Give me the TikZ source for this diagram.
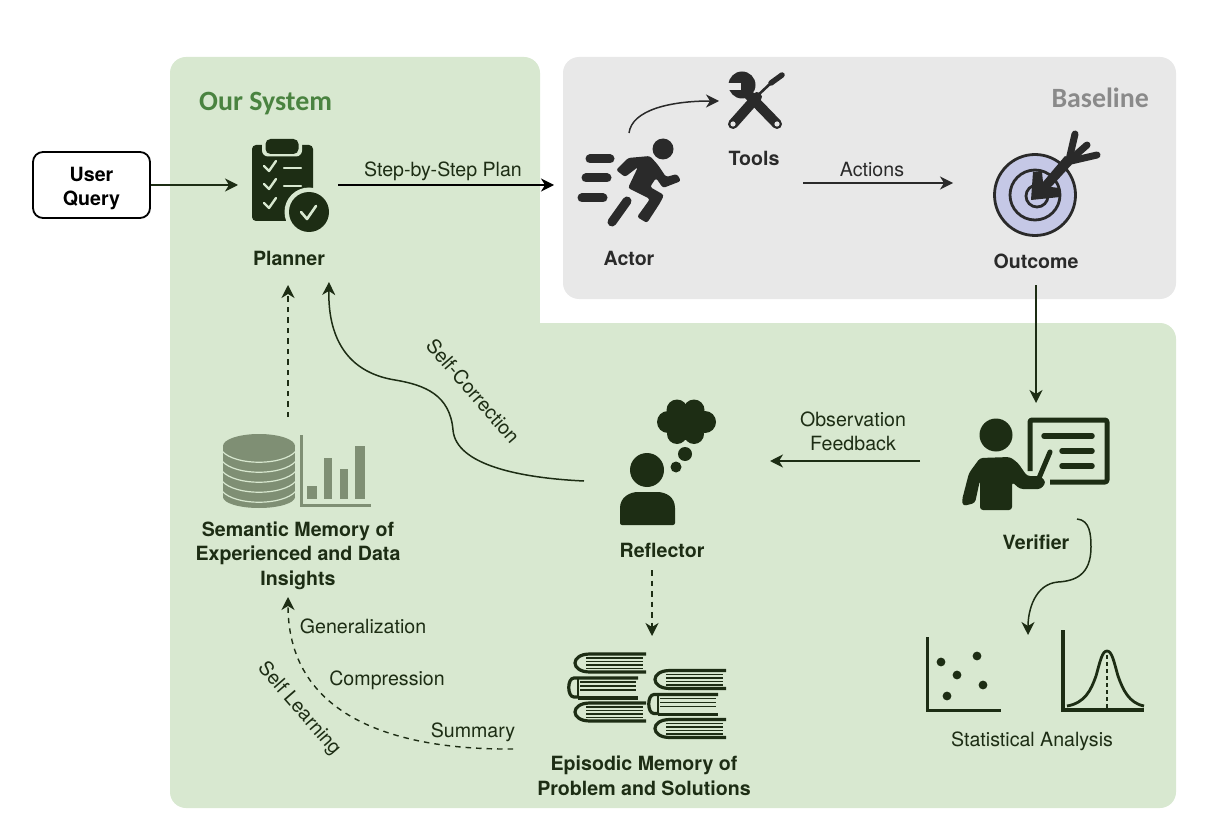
\documentclass[tikz,border=0pt]{standalone}
\usepackage{fontspec}
\setmainfont{TeX Gyre Heros}
\newfontfamily\titlefont{Carlito}
\usetikzlibrary{arrows.meta}
\definecolor{panelgreen}{HTML}{D8E8D0}
\definecolor{panelgray}{HTML}{E8E8E8}
\definecolor{ink}{HTML}{1D2D14}
\definecolor{coal}{HTML}{2A2A2A}
\definecolor{muted}{HTML}{7F8F74}
\definecolor{ourgreen}{HTML}{4A8340}
\definecolor{basegray}{HTML}{8A8A8A}
\definecolor{lilac}{HTML}{C5C8E6}
\tikzset{
  x=1pt,y=-1pt,
  lab/.style={font=\fontsize{19.6}{23.5}\selectfont,text=ink,inner sep=0pt,align=center},
  title/.style={font=\fontsize{19.6}{24.4}\selectfont\bfseries,text=ink,inner sep=0pt,align=center},
  graylab/.style={lab,text=coal},
  graytitle/.style={title,text=coal},
  flow/.style={draw=ink,line width=1.5pt,-{Stealth[length=13pt,width=13pt,inset=4pt]}},
  dashflow/.style={flow,line width=1.4pt,dash pattern=on 5.5pt off 5pt},
  blackflow/.style={flow,draw=black},
  grayflow/.style={flow,draw=coal},
  querybox/.style={draw=black,fill=white,line width=1.8pt,rounded corners=10pt,minimum width=117pt,minimum height=66pt,inner sep=0pt,align=center,font=\fontsize{19.6}{24}\selectfont\bfseries},
  bookline/.style={draw=ink,line width=1.7pt},
  bookedge/.style={draw=ink,line width=3.2pt},
}
\begin{document}
\begin{tikzpicture}
\useasboundingbox (0,0) rectangle (1229,837);
\fill[white] (0,0) rectangle (1229,837);
% panels
\fill[panelgreen,rounded corners=16pt] (170,57) -- (540,57) -- (540,200) -- (170,200) -- cycle;
\fill[panelgreen] (170,100) rectangle (540,400);
\fill[panelgreen,rounded corners=16pt] (170,323) -- (1176,323) -- (1176,808) -- (170,808) -- cycle;
\fill[panelgray,rounded corners=16pt] (563,57) rectangle (1176,299);
\node[font=\fontsize{27.9}{32}\selectfont\titlefont\bfseries,text=ourgreen,anchor=west,inner sep=0pt] (oursys) at (199,104) {Our System};
\node[font=\fontsize{27.9}{32}\selectfont\titlefont\bfseries,text=basegray,anchor=east,inner sep=0pt] (baseline) at (1149,98) {Baseline};

% connector anchors
\coordinate (plannerW) at (238,185);
\coordinate (plannerE) at (338,185);
\coordinate (plannerS) at (288,285);
\coordinate (plannerSE) at (329,282);
\coordinate (actorW) at (554,185);
\coordinate (actorN) at (629,133);
\coordinate (toolsW) at (719,101);
\coordinate (toolsSE) at (803,183);
\coordinate (outcomeW) at (953,183);
\coordinate (outcomeS) at (1036,285);
\coordinate (verifierN) at (1036,403);
\coordinate (verifierW) at (920,461);
\coordinate (verifierS) at (1077,519);
\coordinate (statsN) at (1028,635);
\coordinate (reflectorE) at (770,461);
\coordinate (reflectorW) at (584,481);
\coordinate (reflectorS) at (652,570);
\coordinate (episodicN) at (652,636);
\coordinate (episodicW) at (513,749);
\coordinate (semanticN) at (288,417);
\coordinate (semanticS) at (288,597);

% user query
\node[querybox] (query) at (91.5,185) {\rule{0pt}{21pt}User\\Query};

% planner icon
\fill[ink,rounded corners=4pt] (252,145) rectangle (313,221);
\fill[panelgreen,rounded corners=6pt] (262,136) rectangle (302,156.5);
\fill[ink,rounded corners=5pt] (265.5,139) rectangle (298.5,154);
\fill[panelgreen] (309,212) circle (24.5);
\fill[ink] (309,212) circle (20);
\foreach \yy in {166,184,203}{
  \draw[panelgreen,line width=2.4pt,line cap=round,line join=round] (264,\yy) -- (269,\yy+5) -- (276,\yy-5);
}
\draw[panelgreen,line width=2.4pt,line cap=round] (284,168) -- (301,168);
\draw[panelgreen,line width=2.4pt,line cap=round] (284,186) -- (301,186);
\draw[panelgreen,line width=2.6pt,line cap=round,line join=round] (301,212) -- (307,219) -- (316,206);
\node[title] (plannerlab) at (289,258) {Planner};

% actor icon
\fill[coal] (663,149) circle (10.5);
\foreach \xa/\xb/\yy in {590/610/159,586/607/178,582/603/198}{
  \draw[coal,line width=9pt,line cap=round] (\xa,\yy) -- (\xb,\yy);
}
\fill[coal,rounded corners=2.5pt] (628,158) -- (650,156) -- (658,165) -- (666,177) -- (677,174) -- (681,181) -- (663,188) -- (656,178) -- (650,187) -- (664,195) -- (660,203) -- (647,223) -- (637,217) -- (650,199) -- (628,188) -- (638,167) -- (625,177) -- (616,170) -- cycle;
\draw[coal,line width=9pt,line cap=round] (627,201) -- (612,222);
\node[graytitle] (actorlab) at (629,258) {Actor};

% tools icon
\fill[coal] (742,85) circle (13.5);
\fill[panelgray] (725,83) rectangle (741,90);
\draw[coal,line width=10pt,line cap=round] (746,92) -- (777,124);
\draw[coal,line width=10pt,line cap=round] (757,97) -- (733,124);
\draw[coal,line width=2.6pt] (755,98) -- (772,82);
\draw[coal,line width=5.5pt,line cap=round] (771,83) -- (782,75);
\fill[panelgray] (733,124) circle (2.6);
\fill[panelgray] (777,124) circle (2.6);
\node[graytitle] (toolslab) at (754,158) {Tools};
\node[graylab] (actionslab) at (872,170) {Actions};

% outcome icon
\draw[coal,fill=lilac,line width=2.8pt] (1035,195) circle (40.5);
\draw[coal,line width=2.8pt] (1035,195) circle (25);
\draw[coal,line width=2.8pt] (1037,196) circle (11);
\fill[coal] (1031,200) -- (1060,197) -- (1059,188) -- (1051,187) -- (1074,162) -- (1065,156) -- (1043,182) -- (1042,172) -- (1033,172) -- cycle;
\draw[coal,line width=7pt,line cap=round] (1069,160) -- (1075,134);
\draw[coal,line width=7pt,line cap=round] (1070,160) -- (1087,145);
\draw[coal,line width=7pt,line cap=round] (1071,161) -- (1097,155);
\node[graytitle] (outcomelab) at (1036,261) {Outcome};

% verifier icon
\fill[ink] (996,435) circle (16.5);
\draw[ink,line width=5pt,line join=round,rounded corners=2pt] (1030,471) -- (1030,420) -- (1107,420) -- (1107,482) -- (1050,482);
\foreach \xa/\yy in {1044/436,1062/451,1062/466}{
  \draw[ink,line width=5.5pt,line cap=round] (\xa,\yy) -- (1092,\yy);
}
\draw[ink,line width=5pt,line cap=round] (1050,452) -- (1039,478);
\fill[ink,rounded corners=3pt] (962,500) -- (969,473) -- (980,458) -- (1010,457) -- (1018,463) -- (1027,476) -- (1040,476) -- (1046,482) -- (1041,489) -- (1020,489) -- (1012,482) -- (1012,510) -- (980,510) -- (980,480) -- (975,503) -- (963,506) -- cycle;
\node[title] (verifierlab) at (1036,542) {Verifier};

% stats icons
\draw[ink,line width=3pt] (927,637) -- (927,710) -- (1001,710);
\foreach \xx/\yy in {941/662,977/656,957/675,983/685,947/696}{
  \fill[ink] (\xx,\yy) circle (4.4);
}
\draw[ink,line width=3.2pt] (1063,630) -- (1063,710) -- (1144,710);
\draw[ink,line width=2.8pt] (1067,706) .. controls (1085,703) and (1091,690) .. (1096,676) .. controls (1100,662) and (1102,651) .. (1107,651) .. controls (1112,651) and (1114,662) .. (1118,676) .. controls (1123,690) and (1129,703) .. (1144,706);
\draw[ink,line width=2pt,dash pattern=on 3.5pt off 3.5pt] (1107,655) -- (1107,710);
\node[lab] (statslab) at (1032,741) {Statistical Analysis};

% reflector icon
\fill[ink] (647,470) circle (17);
\fill[ink,rounded corners=2pt] (620,525) -- (620,510) .. controls (620,497) and (630,492) .. (640,492) -- (655,492) .. controls (666,492) and (675,497) .. (675,510) -- (675,525) -- cycle;
\fill[ink] (685,454) circle (7);
\fill[ink] (676,467) circle (5.5);
\foreach \xx/\yy/\rr in {677/410/10.5,694/410/10.5,668/422/11,705/422/11,677/434/10,694/434/10,686/422/18}{
  \fill[ink] (\xx,\yy) circle (\rr);
}
\node[title] (reflectorlab) at (662,550) {Reflector};

% semantic icon
\fill[muted] (223,446) rectangle (295,497);
\fill[muted] (259,497) ellipse (36 and 11);
\foreach \yy in {491,481,471,461,451}{
  \draw[panelgreen,line width=1.2pt] (222,\yy) .. controls (235,\yy+15) and (283,\yy+15) .. (296,\yy);
}
\fill[muted] (259,446) ellipse (36 and 12);
\draw[muted,line width=3pt] (301,435) -- (301,505.5) -- (371,505.5);
\foreach \xa/\xb/\yy in {307/317/486,324/332/458,340/348/469,355/365/446}{
  \fill[muted] (\xa,\yy) rectangle (\xb,499);
}
\node[title] (semanticlab) at (298,555.5) {Semantic Memory of\\Experienced and Data\\Insights};

% episodic icon
\foreach \dx/\dy in {0/0,80/16.5}{
\begin{scope}[shift={(\dx,\dy)}]
  \draw[bookedge] (646,654) -- (590,654) .. controls (570,654) and (570,672) .. (590,672) -- (646,672);
  \foreach \yy in {658,661.5,665,668.5}{ \draw[bookline] (586,\yy) -- (643,\yy); }
  \draw[bookedge] (638,678) -- (574,678) .. controls (567,678) and (567,697) .. (574,697) -- (579,697);
  \draw[bookedge] (578,698) -- (638,698);
  \draw[ink,line width=2.2pt] (578,678) -- (578,697);
  \foreach \yy in {682,686,690}{ \draw[bookline] (580,\yy) -- (636,\yy); }
  \draw[bookedge] (646,703) -- (590,703) .. controls (570,703) and (570,721) .. (590,721) -- (646,721);
  \foreach \yy in {707,710.5,714,717.5}{ \draw[bookline] (586,\yy) -- (643,\yy); }
\end{scope}
}
\node[title] (episodiclab) at (644,776) {Episodic Memory of\\Problem and Solutions};

% labels on connectors
\node[lab] (steplab) at (443,171) {Step-by-Step Plan};
\node[lab,rotate=-49] (selfcorr) at (473,391) {Self-Correction};
\node[lab] (obslab) at (853,431.5) {Observation\\Feedback};
\node[lab] (genlab) at (363,626) {Generalization};
\node[lab] (complab) at (387,680) {Compression};
\node[lab] (sumlab) at (473,732) {Summary};
\node[lab,rotate=-49] (selflearn) at (299,709) {Self Learning};

% connectors
\draw[flow] (query.east |- plannerW) -- (plannerW);
\draw[blackflow] (plannerE) -- (actorW);
\draw[grayflow] (actorN) .. controls (632,110) and (670,101) .. (toolsW);
\draw[grayflow] (toolsSE) -- (outcomeW);
\draw[flow] (outcomeS) -- (verifierN);
\draw[flow] (verifierW) -- (reflectorE);
\draw[flow] (verifierS) .. controls (1090,520) and (1091,535) .. (1091,547) .. controls (1091,575) and (1075,581) .. (1058,582) .. controls (1035,584) and (1028,610) .. (statsN);
\draw[flow] (reflectorW) .. controls (520,478) and (456,465) .. (453,430) .. controls (450,395) and (425,385) .. (395,380) .. controls (345,372) and (328,335) .. (plannerSE);
\draw[dashflow] (reflectorS) -- (episodicN);
\draw[dashflow] (semanticN) -- (plannerS);
\draw[dashflow] (episodicW) .. controls (405,750) and (288,722) .. (semanticS);
\end{tikzpicture}
\end{document}
